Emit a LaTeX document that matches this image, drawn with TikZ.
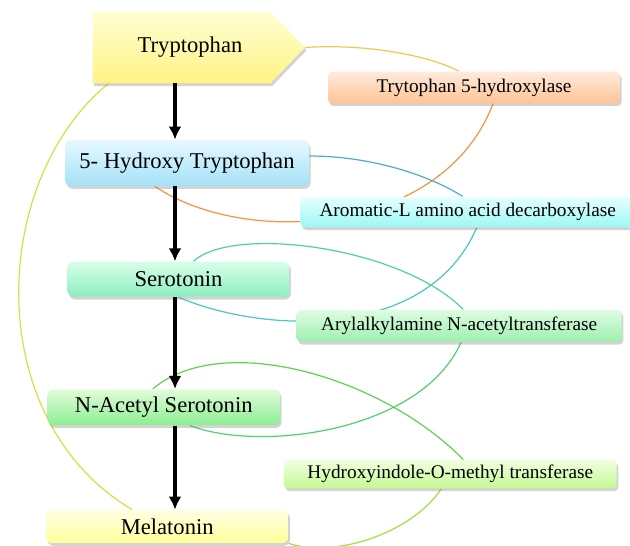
\documentclass[tikz,border=0pt]{standalone}
\usepackage{fontspec}
\setmainfont{Liberation Serif}
\usetikzlibrary{arrows.meta,shadows,backgrounds}

\definecolor{trypA}{HTML}{FFFFD4}
\definecolor{trypB}{HTML}{FFF383}
\definecolor{hydA}{HTML}{E6F8FF}
\definecolor{hydB}{HTML}{A4E2F8}
\definecolor{seroA}{HTML}{D8FEE9}
\definecolor{seroB}{HTML}{8DEFBF}
\definecolor{nasA}{HTML}{E2FCDA}
\definecolor{nasB}{HTML}{8CEE93}
\definecolor{melaA}{HTML}{FFFFE4}
\definecolor{melaB}{HTML}{FFFF9A}
\definecolor{tphA}{HTML}{FFEBDC}
\definecolor{tphB}{HTML}{FFC394}
\definecolor{aadcA}{HTML}{E6FFFF}
\definecolor{aadcB}{HTML}{9CF8F4}
\definecolor{aanatA}{HTML}{DFFCE3}
\definecolor{aanatB}{HTML}{9DF0AE}
\definecolor{hiomtA}{HTML}{F0FFE0}
\definecolor{hiomtB}{HTML}{C4FA92}

\tikzset{
  chem/.style={rectangle,rounded corners=3pt,inner sep=0pt,
    font=\fontsize{11.3}{13.6}\selectfont,
    drop shadow={shadow xshift=0.8pt,shadow yshift=-1.4pt,opacity=0.35}},
  enzyme/.style={chem,rounded corners=2pt,font=\fontsize{9.65}{11.6}\selectfont},
  link/.style={line width=0.6pt},
}

\begin{document}
\begin{tikzpicture}[>={Latex[length=6.5pt,width=6.5pt]},x=0.5pt,y=-0.5pt]
\useasboundingbox (0,0) rectangle (630,545);

% metabolites
\node (tryp) at (181.5,47.5) [minimum width=88.5pt,minimum height=35.5pt,inner sep=0pt,
  font=\fontsize{11.3}{13.6}\selectfont] {\hspace{8.5pt}Tryptophan};
\coordinate (tryptip) at (305,47.5);
\node (hydroxy) at (187,163) [chem,minimum width=122pt,minimum height=23pt,
  top color=hydA,bottom color=hydB] {5- Hydroxy Tryptophan};
\node (sero) at (178.5,279.2) [chem,minimum width=110.8pt,minimum height=17.5pt,
  top color=seroA,bottom color=seroB] {Serotonin};
\node (nas) at (163.8,407.2) [chem,minimum width=116.2pt,minimum height=17.9pt,
  top color=nasA,bottom color=nasB] {N-Acetyl Serotonin};
\node (mela) at (167.2,526.5) [chem,minimum width=121.2pt,minimum height=16.5pt,
  top color=melaA,bottom color=melaB] {Melatonin};

% enzymes
\node (tph) at (474,87.5) [enzyme,minimum width=146pt,minimum height=15.8pt,
  top color=tphA,bottom color=tphB] {Trytophan 5-hydroxylase};
\node (aadc) at (467.7,212) [enzyme,minimum width=167pt,minimum height=15.2pt,
  top color=aadcA,bottom color=aadcB] {Aromatic-L amino acid decarboxylase};
\node (aanat) at (459.2,325.8) [enzyme,minimum width=162.5pt,minimum height=15.9pt,
  top color=aanatA,bottom color=aanatB] {Arylalkylamine N-acetyltransferase};
\node (hiomt) at (450.3,474.2) [enzyme,minimum width=166.4pt,minimum height=14.2pt,
  top color=hiomtA,bottom color=hiomtB] {Hydroxyindole-O-methyl transferase};

% pathway
\coordinate (axis) at (175,0);
\draw[->,line width=1.75pt] (tryp.south -| axis) -- (hydroxy.north -| axis);
\draw[->,line width=1.75pt] (hydroxy.south -| axis) -- (sero.north -| axis);
\draw[->,line width=1.75pt] (sero.south -| axis) -- (nas.north -| axis);
\draw[->,line width=1.75pt] (nas.south -| axis) -- (mela.north -| axis);

\begin{scope}[on background layer]
\draw[link,color={rgb,255:red,240;green,200;blue,80}]
  (tryptip) .. controls +(60,-4) and +(-30,-16) .. ([xshift=-7.5pt]tph.north);
\draw[link,color={rgb,255:red,243;green,149;blue,64}]
  ([xshift=9.5pt]tph.south) .. controls +(-50,132) and +(90,61) .. ([xshift=-16pt]hydroxy.south);
\draw[link,color={rgb,255:red,75;green,172;blue,208}]
  ([yshift=3.5pt]hydroxy.east) .. controls +(60,0) and +(-35,-22) .. ([xshift=-2.5pt]aadc.north);
\draw[link,color={rgb,255:red,75;green,198;blue,192}]
  ([xshift=4.5pt]aadc.south) .. controls +(-50,116) and +(80,35) .. (sero.south);
\draw[link,color={rgb,255:red,80;green,208;blue,160}]
  ([xshift=7.5pt]sero.north) .. controls +(40,-37) and +(-60,-62) .. ([xshift=2pt]aanat.north);
\draw[link,color={rgb,255:red,80;green,208;blue,112}]
  ([xshift=1pt]aanat.south) .. controls +(-40,90) and +(70,27) .. ([xshift=13pt]nas.south);
\draw[link,color={rgb,255:red,96;green,208;blue,80}]
  ([xshift=-5.5pt]nas.north) .. controls +(70,-59) and +(-80,-82) .. ([xshift=6.5pt]hiomt.north);
\draw[link,color={rgb,255:red,160;green,224;blue,64}]
  ([xshift=-4.5pt]hiomt.south) .. controls +(-30,45) and +(45,15) .. (mela.south east);
\draw[link,color={rgb,255:red,212;green,224;blue,64}]
  ([xshift=8pt]tryp.south west) .. controls +(-119,97) and +(-152,-90) .. ([xshift=-17.5pt]mela.north);

\path[top color=trypA,bottom color=trypB,
  drop shadow={shadow xshift=0.8pt,shadow yshift=-1.4pt,opacity=0.35}]
  (tryp.north west) -- (tryp.north east) -- (tryptip) -- (tryp.south east) -- (tryp.south west) -- cycle;
\end{scope}

\end{tikzpicture}
\end{document}
